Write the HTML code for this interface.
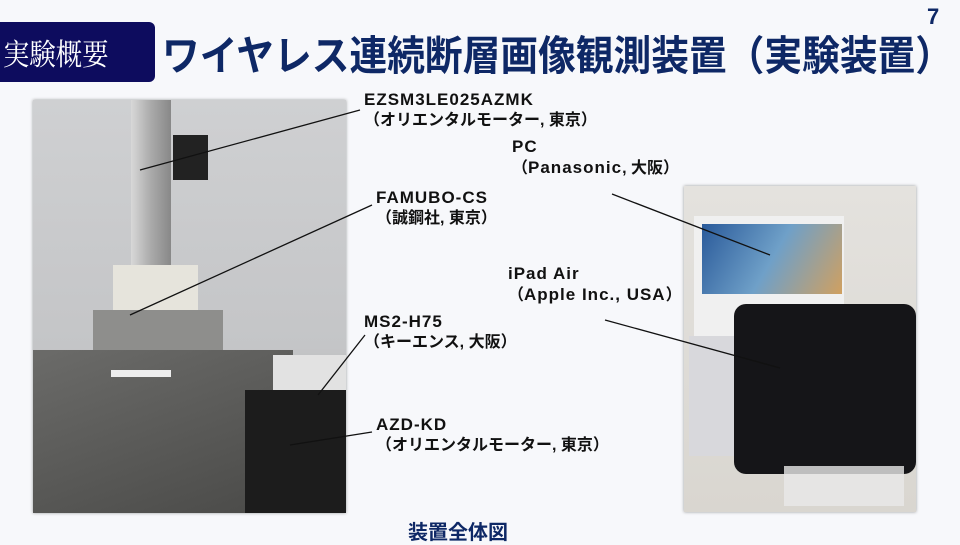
<!DOCTYPE html>
<html><head><meta charset="utf-8"><style>
body{margin:0;width:960px;height:528px;overflow:hidden;background:#f7f8fb;position:relative;font-family:"Liberation Sans","Noto Sans CJK JP",sans-serif}
.a{position:absolute}
.lbl{position:absolute;font-size:16px;line-height:20px;color:#111;font-weight:bold;white-space:nowrap}
.l{font-size:17px;letter-spacing:1px}
</style></head><body>
<div class="a" style="left:0;top:22px;width:155px;height:60px;background:#0d0c5e;border-radius:0 6px 6px 0"></div>
<div class="a" style="left:3px;top:30px;color:#fff;font-size:30px;font-family:'Liberation Serif','Noto Serif CJK SC',serif;transform:scaleX(0.88);transform-origin:left">実験概要</div>
<div class="a" style="left:162px;top:22px;color:#0e2866;font-size:41px;font-weight:bold;white-space:nowrap;transform:scaleX(0.92);transform-origin:left;font-family:'Liberation Sans','Noto Sans CJK JP',sans-serif">ワイヤレス連続断層画像観測装置（実験装置）</div>
<div class="a" style="left:927px;top:4px;color:#0e2866;font-size:22px;font-weight:bold">7</div>

<div class="a" style="left:33px;top:100px;width:313px;height:413px;background:linear-gradient(#cfd0d2,#c4c5c7 60%,#9a9a98);overflow:hidden;box-shadow:0 0 3px #999">
 <div class="a" style="left:98px;top:0;width:40px;height:210px;background:linear-gradient(90deg,#d8d8d8,#aaa,#888)"></div>
 <div class="a" style="left:140px;top:35px;width:35px;height:45px;background:#222"></div>
 <div class="a" style="left:80px;top:165px;width:85px;height:60px;background:#e6e4dc"></div>
 <div class="a" style="left:60px;top:210px;width:130px;height:50px;background:#8e8e8c"></div>
 <div class="a" style="left:0;top:250px;width:260px;height:163px;background:linear-gradient(160deg,#6b6b69,#4a4a48)"></div>
 <div class="a" style="left:78px;top:270px;width:60px;height:7px;background:#eee"></div>
 <div class="a" style="left:240px;top:255px;width:73px;height:45px;background:#e2e2e2"></div>
 <div class="a" style="left:212px;top:290px;width:101px;height:123px;background:#1c1c1c"></div>
</div>
<div class="a" style="left:684px;top:186px;width:232px;height:326px;background:linear-gradient(#e4e2de,#d9d6d0);overflow:hidden;box-shadow:0 0 3px #999">
 <div class="a" style="left:10px;top:30px;width:150px;height:160px;background:#f0f0f0"></div>
 <div class="a" style="left:18px;top:38px;width:140px;height:70px;background:linear-gradient(120deg,#2a5a9a,#6fa0c8,#d0a060)"></div>
 <div class="a" style="left:5px;top:150px;width:60px;height:120px;background:#d8d8dc"></div>
 <div class="a" style="left:50px;top:118px;width:182px;height:170px;background:#151518;border-radius:12px"></div>
 <div class="a" style="left:100px;top:280px;width:120px;height:40px;background:#e8e8e8;opacity:.8"></div>
</div>

<svg class="a" style="left:0;top:0" width="960" height="528">
<g stroke="#111" stroke-width="1.3">
<line x1="360" y1="110" x2="140" y2="170"/>
<line x1="372" y1="205" x2="130" y2="315"/>
<line x1="365" y1="335" x2="318" y2="395"/>
<line x1="372" y1="432" x2="290" y2="445"/>
<line x1="612" y1="194" x2="770" y2="255"/>
<line x1="605" y1="320" x2="780" y2="368"/>
</g></svg>

<div class="lbl" style="left:364px;top:90px"><span class="l">EZSM3LE025AZMK</span><br>（オリエンタルモーター, 東京）</div>
<div class="lbl" style="left:512px;top:137px"><span class="l">PC</span><br>（<span class="l">Panasonic</span>, 大阪）</div>
<div class="lbl" style="left:376px;top:188px"><span class="l">FAMUBO-CS</span><br>（誠鋼社, 東京）</div>
<div class="lbl" style="left:508px;top:264px"><span class="l">iPad Air</span><br>（<span class="l">Apple Inc., USA</span>）</div>
<div class="lbl" style="left:364px;top:312px"><span class="l">MS2-H75</span><br>（キーエンス, 大阪）</div>
<div class="lbl" style="left:376px;top:415px"><span class="l">AZD-KD</span><br>（オリエンタルモーター, 東京）</div>
<div class="a" style="left:408px;top:516px;color:#0e2866;font-size:20px;font-weight:bold">装置全体図</div>
</body></html>
